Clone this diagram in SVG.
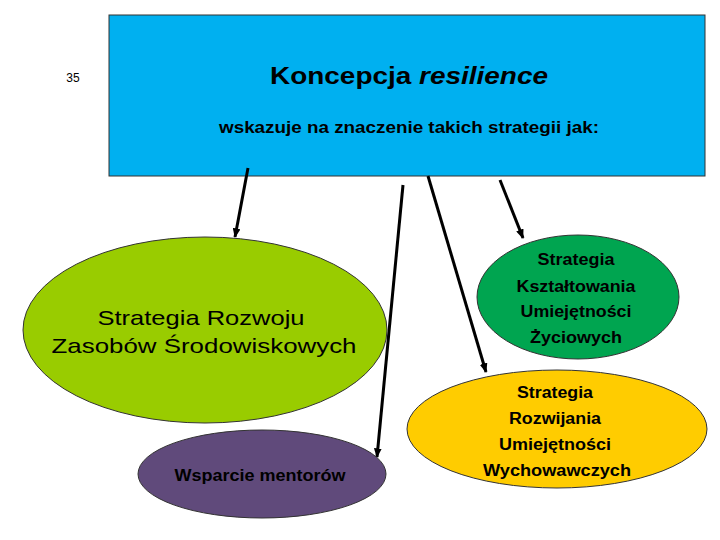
<svg xmlns="http://www.w3.org/2000/svg" width="720" height="540" viewBox="0 0 720 540">
<style>
text{font-family:"Liberation Sans",Arial,sans-serif;fill:#000;text-anchor:middle}
.b{font-weight:bold;font-size:16px}
.big{font-size:21px}
.node{stroke:#333;stroke-width:1}
.conn{stroke:#000;stroke-width:3;fill:none;marker-end:url(#ah)}
</style>
<defs>
<marker id="ah" viewBox="0 0 10 10" refX="9" refY="5" markerWidth="3.2" markerHeight="2.6" orient="auto" markerUnits="strokeWidth" preserveAspectRatio="none">
<path d="M0,0 L10,5 L0,10 z" fill="#000"/>
</marker>
</defs>
<rect width="720" height="540" fill="#fff"/>
<text x="73" y="82" style="font-size:12px">35</text>
<g id="header">
<rect class="node" x="109" y="15" width="596" height="161" fill="#00B0F0"/>
<text x="409" y="84" style="font-size:24px;font-weight:bold" textLength="278" lengthAdjust="spacingAndGlyphs">Koncepcja <tspan font-style="italic">resilience</tspan></text>
<text class="b" x="409" y="133" textLength="380" lengthAdjust="spacingAndGlyphs">wskazuje na znaczenie takich strategii jak:</text>
</g>
<g id="connectors">
<line class="conn" x1="248" y1="168" x2="235" y2="237"/>
<line class="conn" x1="403" y1="185" x2="377" y2="457"/>
<line class="conn" x1="428" y1="176" x2="486" y2="372"/>
<line class="conn" x1="500" y1="180" x2="523" y2="238"/>
</g>
<g id="n-srodowiskowe">
<ellipse class="node" cx="205" cy="330" rx="182" ry="93" fill="#99CC00"/>
<text class="big" x="201" y="325" textLength="207" lengthAdjust="spacingAndGlyphs">Strategia Rozwoju</text>
<text class="big" x="204" y="353" textLength="305" lengthAdjust="spacingAndGlyphs">Zasobów Środowiskowych</text>
</g>
<g id="n-mentorzy">
<ellipse class="node" cx="262" cy="474" rx="124" ry="44" fill="#604A7B"/>
<text class="b" x="260" y="481" textLength="171" lengthAdjust="spacingAndGlyphs">Wsparcie mentorów</text>
</g>
<g id="n-zyciowe">
<ellipse class="node" cx="578" cy="297" rx="101" ry="62" fill="#00A550"/>
<text class="b" x="576" y="265" textLength="77" lengthAdjust="spacingAndGlyphs">Strategia</text>
<text class="b" x="576" y="292" textLength="119" lengthAdjust="spacingAndGlyphs">Kształtowania</text>
<text class="b" x="576" y="317" textLength="111" lengthAdjust="spacingAndGlyphs">Umiejętności</text>
<text class="b" x="576" y="343" textLength="92" lengthAdjust="spacingAndGlyphs">Życiowych</text>
</g>
<g id="n-wychowawcze">
<ellipse class="node" cx="557" cy="429" rx="150" ry="59" fill="#FFCC00"/>
<text class="b" x="555" y="398" textLength="76" lengthAdjust="spacingAndGlyphs">Strategia</text>
<text class="b" x="555" y="424" textLength="92" lengthAdjust="spacingAndGlyphs">Rozwijania</text>
<text class="b" x="555" y="450" textLength="112" lengthAdjust="spacingAndGlyphs">Umiejętności</text>
<text class="b" x="557" y="476" textLength="148" lengthAdjust="spacingAndGlyphs">Wychowawczych</text>
</g>
</svg>
